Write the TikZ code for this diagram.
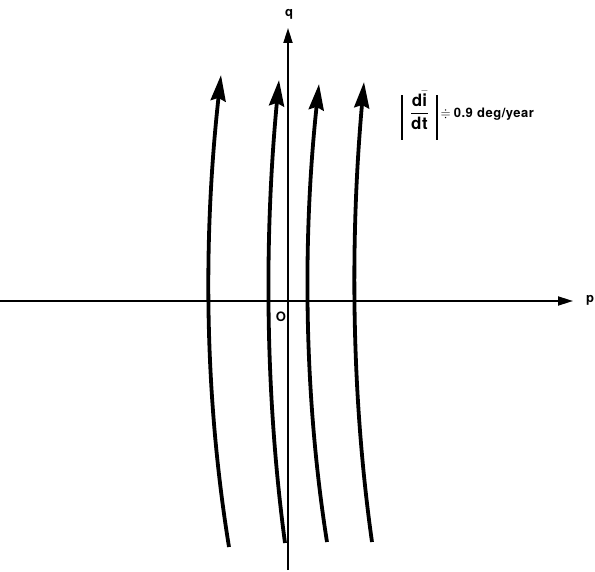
\documentclass[tikz,border=0pt]{standalone}
\usepackage{amsmath,amssymb}
\usepackage{fontspec}
\setmainfont{TeX Gyre Heros}[LetterSpace=4]
\usetikzlibrary{arrows.meta}
\begin{document}
\begin{tikzpicture}[x=1pt, y=-1pt,
    axis/.style={line width=1.8pt, -{Triangle[length=15pt, width=9pt]}},
    orbit/.style={line width=3.8pt, -{Stealth[length=26pt, width=15pt, inset=3pt]}},
    lbl/.style={font=\fontsize{13}{15}\selectfont\bfseries}]
    \useasboundingbox (0,0) rectangle (595,572);

    % axes
    \coordinate (W) at (0,301);
    \coordinate (E) at (573,301);
    \coordinate (S) at (288,570);
    \coordinate (N) at (288,28);
    \node[lbl] (p) at (590,300) {p};
    \node[lbl] (q) at (289,14) {q};
    \node[lbl] (O) at (281,317) {O};
    \draw[axis] (W) -- (E);
    \draw[axis] (S) -- (N);

    % paths of the pole
    \coordinate (a1) at (229,547);
    \coordinate (b1) at (221,75);
    \coordinate (a2) at (285,543);
    \coordinate (b2) at (279,80);
    \coordinate (a3) at (327,542);
    \coordinate (b3) at (319,84);
    \coordinate (a4) at (372,542);
    \coordinate (b4) at (364,82);
    \draw[orbit] (a1) .. controls (203.5,390) and (203.5,233) .. (b1);
    \draw[orbit] (a2) .. controls (264.5,390) and (264.5,233) .. (b2);
    \draw[orbit] (a3) .. controls (303,390) and (303,233) .. (b3);
    \draw[orbit] (a4) .. controls (350.5,390) and (350.5,233) .. (b4);

    \node[lbl, anchor=west, inner sep=0pt] (rate) at (401,115.5)
        {\vrule width 1.7pt height 23pt depth 22pt\kern7pt
         {\fontsize{17}{19}\selectfont
          $\displaystyle\frac{\mbox{d}\bar{\mbox{i}}}{\mbox{dt}}$}\kern7pt
         \vrule width 1.7pt height 23pt depth 22pt\kern3pt
         $\doteqdot$\kern3pt 0.9 deg/year};
\end{tikzpicture}
\end{document}
